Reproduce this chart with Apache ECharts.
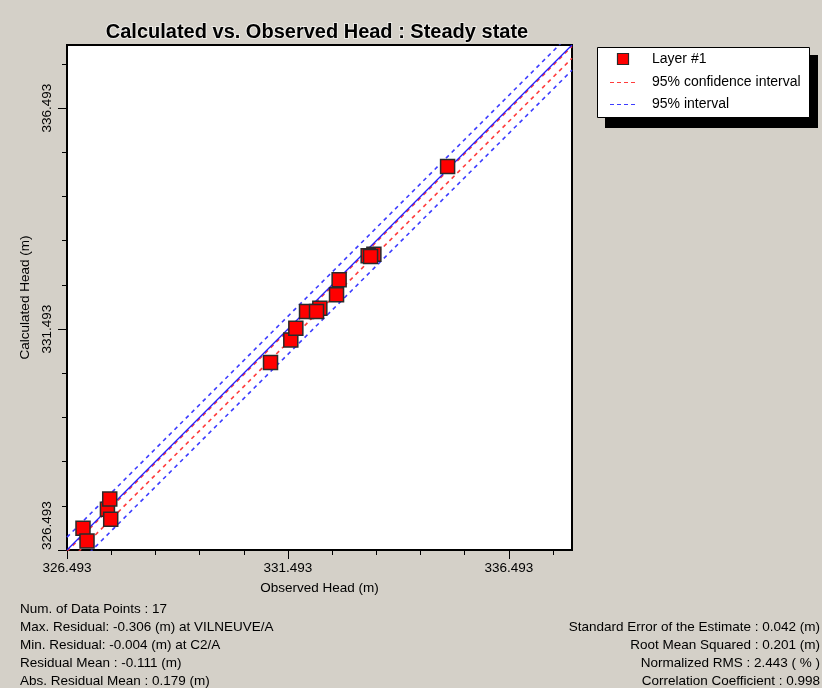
<!DOCTYPE html>
<html><head><meta charset="utf-8">
<script src="https://cdn.jsdelivr.net/npm/echarts@6/dist/echarts.min.js"></script>
<style>html,body{margin:0;padding:0;background:#d4d0c8;}#c{width:822px;height:688px;}</style>
</head><body><div id="c"></div>
<script>
// ---- data ----
const axisMin = 326.493;
const axisMax = 337.92;
const majorTicks = [326.493, 331.493, 336.493];
const minorTicks = [326.493, 327.493, 328.493, 329.493, 330.493, 331.493, 332.493, 333.493, 334.493, 335.493, 336.493, 337.493];
const observed   = [326.855, 326.946, 327.408, 327.460, 327.482, 331.098, 331.557, 331.671, 331.913, 332.214, 332.139, 332.592, 332.651, 333.437, 333.308, 333.362, 335.105];
const calculated = [326.984, 326.697, 327.414, 327.648, 327.188, 330.733, 331.247, 331.512, 331.888, 331.965, 331.888, 332.266, 332.606, 333.187, 333.149, 333.133, 335.171];
const confidenceOffsets = [-0.03, -0.30];
const intervalOffsets = [0.29, -0.57];
const titleText = 'Calculated vs. Observed Head : Steady state';
const seriesNames = ['Layer #1', '95% confidence interval', '95% interval'];
const statsLeft = ['Num. of Data Points : 17', 'Max. Residual: -0.306 (m) at VILNEUVE/A', 'Min. Residual: -0.004 (m) at C2/A', 'Residual Mean : -0.111 (m)', 'Abs. Residual Mean : 0.179 (m)'];
const statsRight = ['Standard Error of the Estimate : 0.042 (m)', 'Root Mean Squared : 0.201 (m)', 'Normalized RMS : 2.443 ( % )', 'Correlation Coefficient : 0.998'];

// ---- build ----
const FONT = '"Liberation Sans", Arial, sans-serif';
const RED_DASH = '#ff3c3c';
const BLUE_DASH = '#3c3cff';
const scatterData = observed.map((x, i) => [x, calculated[i]]);
const offsetLine = c => [[axisMin, axisMin + c], [axisMax, axisMax + c]];

const series = [
  { type: 'scatter', name: seriesNames[0], data: scatterData, symbol: 'rect', symbolSize: 14, z: 5,
    itemStyle: { color: '#ff0000', borderColor: '#2a2a2a', borderWidth: 1.5, opacity: 1 } },
  { type: 'line', name: '1:1', data: offsetLine(0), symbol: 'none', z: 3, clip: true, silent: true,
    itemStyle: { color: '#2020ff' }, lineStyle: { color: '#2020ff', width: 1.2 } }
];
confidenceOffsets.forEach(c => series.push({ type: 'line', name: seriesNames[1], data: offsetLine(c), symbol: 'none', z: 2, clip: true,
  itemStyle: { color: RED_DASH }, lineStyle: { color: RED_DASH, width: 1.6, type: [4, 4] } }));
intervalOffsets.forEach(c => series.push({ type: 'line', name: seriesNames[2], data: offsetLine(c), symbol: 'none', z: 2, clip: true,
  itemStyle: { color: BLUE_DASH }, lineStyle: { color: BLUE_DASH, width: 1.6, type: [4, 4] } }));

const fmt = v => Number(v).toFixed(3);
function mkAxis(dim, major) {
  const isX = dim === 'x';
  const a = {
    type: 'value', min: axisMin, max: axisMax, gridIndex: 0,
    position: isX ? 'bottom' : 'left',
    splitLine: { show: false },
    axisLine: { show: major, onZero: false, lineStyle: { color: '#000', width: 2 } },
    axisTick: { show: true, inside: false, length: major ? 9 : 5, customValues: major ? majorTicks : minorTicks, lineStyle: { color: '#000', width: 1 } },
    axisLabel: { show: major, customValues: majorTicks, formatter: fmt, color: '#000', fontFamily: FONT, fontSize: 13.5,
      margin: isX ? 11 : 13, rotate: isX ? 0 : 90 }
  };
  if (!isX && major) a.axisLabel.alignMinLabel = 'left';
  if (major) {
    a.name = isX ? 'Observed Head (m)' : 'Calculated Head (m)';
    a.nameLocation = 'middle';
    a.nameGap = isX ? 31 : 28;
    a.nameTextStyle = { color: '#000', fontFamily: FONT, fontSize: 13.5 };
  }
  return a;
}

const graphic = [
  { type: 'rect', shape: { x: 605, y: 55, width: 213, height: 73 }, style: { fill: '#000' }, z: 10 },
  { type: 'rect', shape: { x: 597.5, y: 47.5, width: 212, height: 70 }, style: { fill: '#fff', stroke: '#000', lineWidth: 1 }, z: 11 },
  { type: 'rect', shape: { x: 617.5, y: 53.5, width: 11, height: 11 }, style: { fill: '#ff0000', stroke: '#2a2a2a', lineWidth: 1.2 }, z: 12 },
  { type: 'line', shape: { x1: 610, y1: 82.5, x2: 638, y2: 82.5 }, style: { stroke: RED_DASH, lineWidth: 1, lineDash: [4, 3] }, z: 12 },
  { type: 'line', shape: { x1: 610, y1: 104.5, x2: 638, y2: 104.5 }, style: { stroke: BLUE_DASH, lineWidth: 1, lineDash: [4, 3] }, z: 12 }
];
[59, 82, 104].forEach((y, i) => graphic.push({ type: 'text', z: 12,
  style: { text: seriesNames[i], x: 652, y: y, fill: '#000', font: '14px ' + FONT, verticalAlign: 'middle', align: 'left' } }));
statsLeft.forEach((t, i) => graphic.push({ type: 'text', z: 12,
  style: { text: t, x: 20, y: 609 + i * 18, fill: '#000', font: '13.5px ' + FONT, verticalAlign: 'middle', align: 'left' } }));
statsRight.forEach((t, i) => graphic.push({ type: 'text', z: 12,
  style: { text: t, x: 820, y: 627 + i * 18, fill: '#000', font: '13.5px ' + FONT, verticalAlign: 'middle', align: 'right' } }));
graphic.push({ type: 'text', z: 12,
  style: { text: titleText, x: 317, y: 32, fill: '#000', font: 'bold 20px ' + FONT, verticalAlign: 'middle', align: 'center',
    stroke: 'rgba(255,255,255,0.55)', lineWidth: 2 } });

const chart = echarts.init(document.getElementById('c'), null, { renderer: 'canvas' });
chart.setOption({
  backgroundColor: '#d4d0c8',
  animation: false,
  grid: { left: 67, top: 45, width: 505, height: 505, show: true, backgroundColor: '#fff', borderColor: '#000', borderWidth: 2, containLabel: false },
  xAxis: [mkAxis('x', true), mkAxis('x', false)],
  yAxis: [mkAxis('y', true), mkAxis('y', false)],
  series: series,
  graphic: graphic
});
</script></body></html>
